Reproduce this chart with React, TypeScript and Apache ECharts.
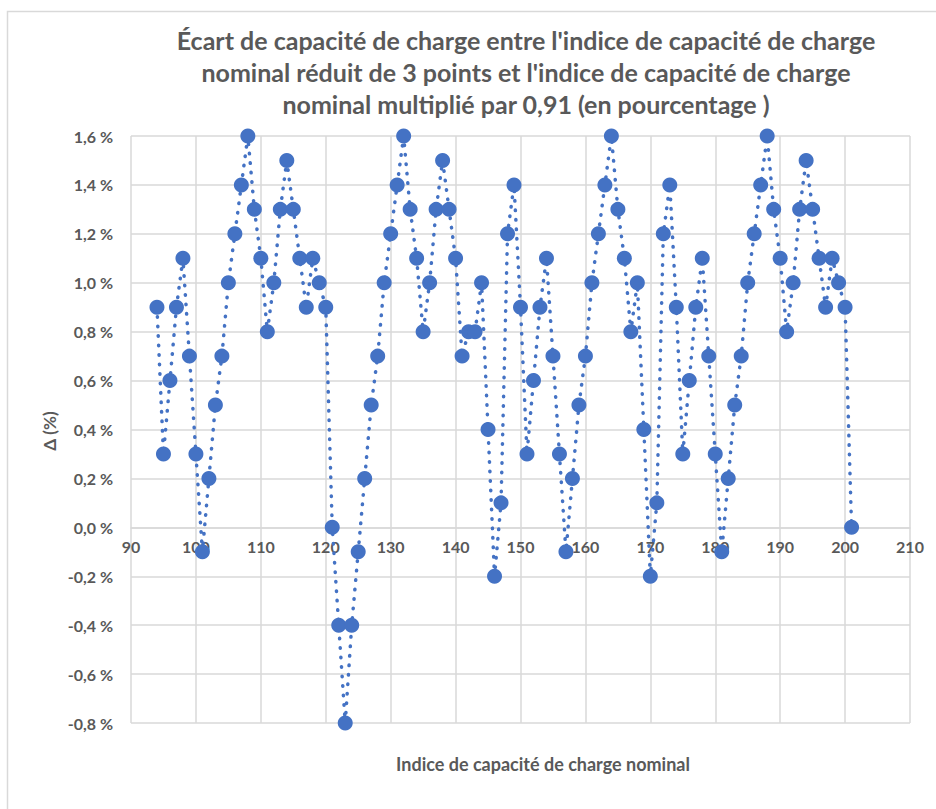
import React, { useEffect, useRef } from "react";
import * as echarts from "echarts";

const titleLines = [
  "Écart de capacité de charge entre l'indice de capacité de charge",
  "nominal réduit de 3 points et l'indice de capacité de charge",
  "nominal multiplié par 0,91 (en pourcentage )",
];
const xAxisName = "Indice de capacité de charge nominal";
const yAxisName = "Δ (%)";

const indices = [
  94, 95, 96, 97, 98, 99, 100, 101,
  102, 103, 104, 105, 106, 107, 108, 109,
  110, 111, 112, 113, 114, 115, 116, 117,
  118, 119, 120, 121, 122, 123, 124, 125,
  126, 127, 128, 129, 130, 131, 132, 133,
  134, 135, 136, 137, 138, 139, 140, 141,
  142, 143, 144, 145, 146, 147, 148, 149,
  150, 151, 152, 153, 154, 155, 156, 157,
  158, 159, 160, 161, 162, 163, 164, 165,
  166, 167, 168, 169, 170, 171, 172, 173,
  174, 175, 176, 177, 178, 179, 180, 181,
  182, 183, 184, 185, 186, 187, 188, 189,
  190, 191, 192, 193, 194, 195, 196, 197,
  198, 199, 200, 201,
];

const deltas = [
  0.9, 0.3, 0.6, 0.9, 1.1, 0.7, 0.3, -0.1,
  0.2, 0.5, 0.7, 1.0, 1.2, 1.4, 1.6, 1.3,
  1.1, 0.8, 1.0, 1.3, 1.5, 1.3, 1.1, 0.9,
  1.1, 1.0, 0.9, 0.0, -0.4, -0.8, -0.4, -0.1,
  0.2, 0.5, 0.7, 1.0, 1.2, 1.4, 1.6, 1.3,
  1.1, 0.8, 1.0, 1.3, 1.5, 1.3, 1.1, 0.7,
  0.8, 0.8, 1.0, 0.4, -0.2, 0.1, 1.2, 1.4,
  0.9, 0.3, 0.6, 0.9, 1.1, 0.7, 0.3, -0.1,
  0.2, 0.5, 0.7, 1.0, 1.2, 1.4, 1.6, 1.3,
  1.1, 0.8, 1.0, 0.4, -0.2, 0.1, 1.2, 1.4,
  0.9, 0.3, 0.6, 0.9, 1.1, 0.7, 0.3, -0.1,
  0.2, 0.5, 0.7, 1.0, 1.2, 1.4, 1.6, 1.3,
  1.1, 0.8, 1.0, 1.3, 1.5, 1.3, 1.1, 0.9,
  1.1, 1.0, 0.9, 0.0,
];

const Y_MIN = -0.8;
const Y_MAX = 1.6;

const FONT = "Lato, 'Open Sans', sans-serif";
const GREY = "#595959";
const GRID = "#d9d9d9";
const BLUE = "#4472C4";

export default function App() {
  const ref = useRef<HTMLDivElement>(null);

  useEffect(() => {
    if (!ref.current) return;
    const chart = echarts.init(ref.current, undefined, { renderer: "svg" });
    const fmt = (v: number) => {
      const n = Math.abs(v) < 1e-9 ? 0 : v;
      return n.toFixed(1).replace(".", ",") + " %";
    };
    const gridTop = 136;
    const gridBottom = 86;
    const plotH = 809 - gridTop - gridBottom;
    // distance from plot bottom up to the zero line
    const zeroOffset = (plotH * (0 - Y_MIN)) / (Y_MAX - Y_MIN);

    chart.setOption({
      animation: false,
      backgroundColor: "#ffffff",
      grid: { left: 131, right: 26, top: gridTop, bottom: gridBottom, containLabel: false },
      graphic: [
        {
          type: "rect",
          shape: { x: 7.5, y: 11.5, width: 940, height: 820 },
          style: { fill: "none", stroke: GRID, lineWidth: 1.5 },
          silent: true,
        },
        {
          type: "text",
          x: 526,
          y: 24,
          style: {
            text: titleLines.join("\n"),
            textAlign: "center",
            textVerticalAlign: "top",
            fill: GREY,
            font: `bold 25px ${FONT}`,
            lineHeight: 32,
          },
        },
        {
          type: "text",
          x: 543,
          y: 764,
          style: {
            text: xAxisName,
            textAlign: "center",
            textVerticalAlign: "middle",
            fill: GREY,
            font: `bold 18px ${FONT}`,
          },
        },
        {
          type: "text",
          x: 49,
          y: 431,
          rotation: Math.PI / 2,
          style: {
            text: yAxisName,
            textAlign: "center",
            textVerticalAlign: "middle",
            fill: GREY,
            font: `bold 17px ${FONT}`,
          },
        },
      ],
      xAxis: {
        type: "value",
        position: "bottom",
        offset: -zeroOffset,
        min: 90,
        max: 210,
        interval: 10,
        axisLine: { show: true, onZero: false, lineStyle: { color: GRID, width: 1.5 } },
        axisTick: { show: false },
        axisLabel: {
          color: GREY,
          fontWeight: "bold",
          fontSize: 16,
          fontFamily: FONT,
          margin: 11,
        },
        splitLine: { show: true, lineStyle: { color: GRID, width: 1.5 } },
      },
      yAxis: {
        type: "value",
        min: Y_MIN,
        max: Y_MAX,
        interval: 0.2,
        axisLine: { show: false, onZero: false },
        axisTick: { show: false },
        axisLabel: {
          color: GREY,
          fontWeight: "bold",
          fontSize: 16,
          fontFamily: FONT,
          margin: 18,
          formatter: fmt,
        },
        splitLine: { show: true, lineStyle: { color: GRID, width: 1.5 } },
      },
      series: [
        {
          type: "line",
          data: indices.map((x, i) => [x, deltas[i]]),
          symbol: "circle",
          symbolSize: 15,
          showAllSymbol: true,
          itemStyle: { color: BLUE },
          lineStyle: { color: BLUE, width: 3.5, type: [0.5, 9], cap: "round" },
        },
      ],
    });
    return () => chart.dispose();
  }, []);

  return (
    <div
      ref={ref}
      style={{ position: "absolute", left: 0, top: 0, width: 936, height: 809 }}
    />
  );
}
